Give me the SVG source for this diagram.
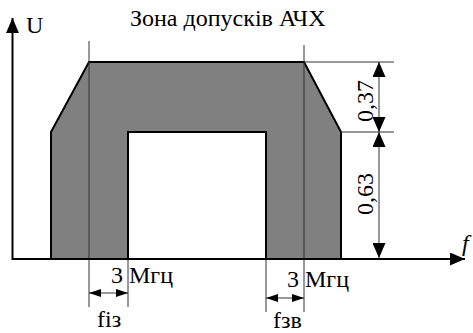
<svg xmlns="http://www.w3.org/2000/svg" width="473" height="333" viewBox="0 0 473 333">
<defs>
<style>
.lbl{font-family:'Liberation Serif','Times New Roman',serif;font-size:24px;fill:#000}
.thick{stroke:#000;stroke-width:2;fill:none}
.thin{stroke:#333;stroke-width:1;fill:none}
.zone{fill:#808080;stroke:#000;stroke-width:2;stroke-linejoin:miter}
.hole{fill:#fff;stroke:#000;stroke-width:2}
</style>
<marker id="bigArrow" viewBox="0 0 15 13" refX="15" refY="6.5" markerWidth="15" markerHeight="13" markerUnits="userSpaceOnUse" orient="auto-start-reverse">
<path d="M0,0 L15,6.5 L0,13 Z" fill="#000"/>
</marker>
<marker id="smallArrow" viewBox="0 0 12 8" refX="12" refY="4" markerWidth="12" markerHeight="8" markerUnits="userSpaceOnUse" orient="auto-start-reverse">
<path d="M0,0 L12,4 L0,8 Z" fill="#000"/>
</marker>
</defs>
<rect width="473" height="333" fill="#fff"/>

<g id="zone">
<path class="zone" d="M51,259 L51,132 L89,62 L304,62 L341,132 L341,259 Z"/>
<rect class="hole" x="128" y="132" width="138" height="127"/>
</g>

<g id="connectors">
<line class="thin" x1="89" y1="41" x2="89" y2="307"/>
<line class="thin" x1="128" y1="259" x2="128" y2="307"/>
<line class="thin" x1="304" y1="45" x2="304" y2="312"/>
<line class="thin" x1="266" y1="259" x2="266" y2="312"/>
<line class="thin" x1="304" y1="62" x2="394" y2="62"/>
<line class="thin" x1="341" y1="132" x2="394" y2="132"/>
<line class="thick" x1="12.5" y1="260" x2="12.5" y2="18" marker-end="url(#bigArrow)"/>
<line class="thick" x1="12" y1="259" x2="465" y2="259" marker-end="url(#bigArrow)"/>
<line class="thin" x1="379" y1="62" x2="379" y2="132" stroke="#000" marker-start="url(#bigArrow)" marker-end="url(#bigArrow)"/>
<line class="thin" x1="379" y1="132" x2="379" y2="258" stroke="#000" marker-start="url(#bigArrow)" marker-end="url(#bigArrow)"/>
<line class="thin" x1="89" y1="293" x2="128" y2="293" stroke="#000" stroke-width="1.5" marker-start="url(#smallArrow)" marker-end="url(#smallArrow)"/>
<line class="thin" x1="266" y1="298" x2="304" y2="298" stroke="#000" stroke-width="1.5" marker-start="url(#smallArrow)" marker-end="url(#smallArrow)"/>
</g>

<g id="labels">
<text class="lbl" id="title" x="130" y="26">Зона допусків АЧХ</text>
<text class="lbl" id="u" x="26" y="33" font-size="22">U</text>
<text class="lbl" id="f" x="462" y="251" font-style="italic">f</text>
<text class="lbl" id="d037" transform="translate(373,101) rotate(-90)" text-anchor="middle" font-size="23">0,37</text>
<text class="lbl" id="d063" transform="translate(373,194) rotate(-90)" text-anchor="middle" font-size="23">0,63</text>
<text class="lbl" id="mhz1" x="111" y="283">3 Мгц</text>
<text class="lbl" id="mhz2" x="287" y="287">3 Мгц</text>
<text class="lbl" id="fiz" x="97" y="327">fіз</text>
<text class="lbl" id="fzv" x="273" y="328">fзв</text>
</g>
</svg>
